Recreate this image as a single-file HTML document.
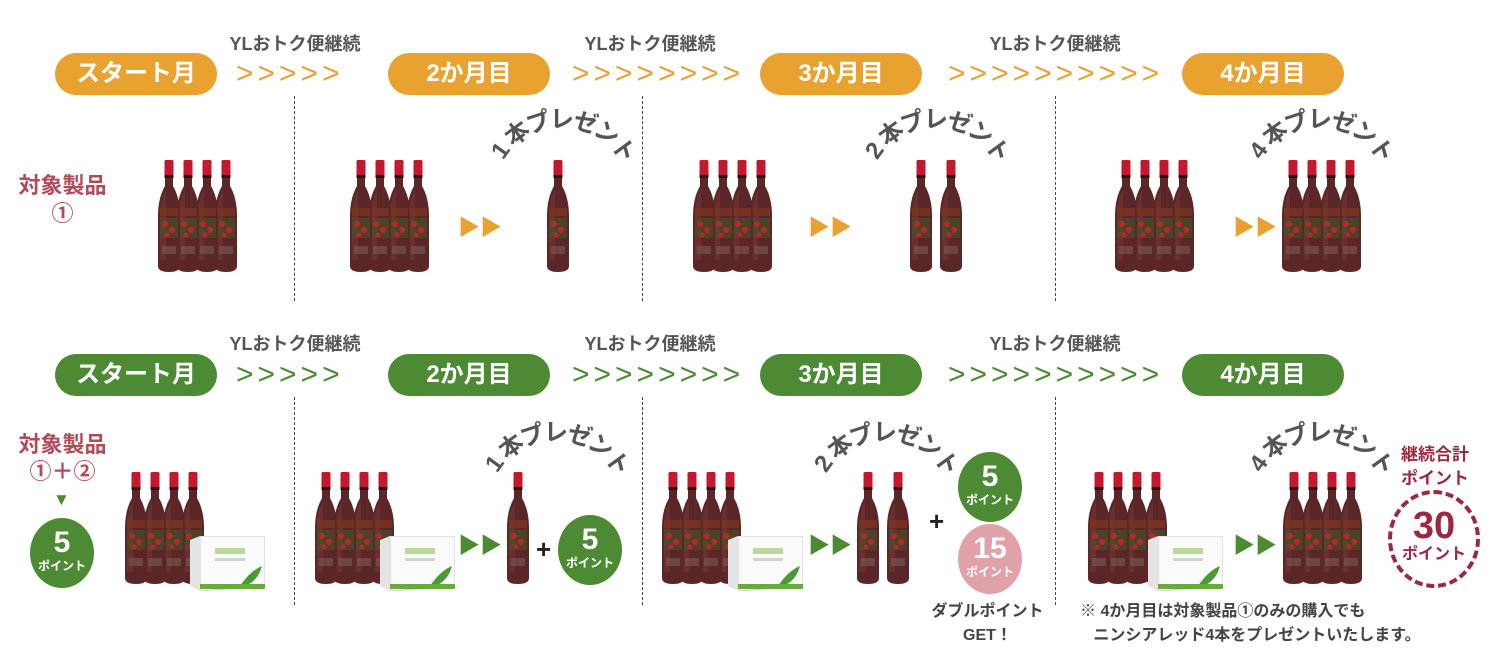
<!DOCTYPE html>
<html><head><meta charset="utf-8">
<style>
body{margin:0;width:1500px;height:664px;background:#fff;position:relative;overflow:hidden;font-family:"Liberation Sans","Noto Sans CJK JP",sans-serif;}
.a{position:absolute;}
.pill{position:absolute;height:42px;width:162px;border-radius:21px;color:#fff;font-weight:bold;font-size:24px;line-height:42px;text-align:center;}
.o{background:#E9A22F}.g{background:#4C8A34}
.yl{position:absolute;font-weight:bold;font-size:18px;color:#555;width:160px;text-align:center;}
.chev{position:absolute;font-size:30px;line-height:30px;letter-spacing:4px;}
.co{color:#E9A22F}.cg{color:#4C8A34}
.dash{position:absolute;width:0;border-left:1.5px dashed #444;}
.arc{position:absolute;width:0;height:0;}
.arc span{position:absolute;left:-12px;top:-88px;width:24px;height:26px;text-align:center;font-size:24px;font-weight:bold;color:#555;transform-origin:12px 88px;line-height:26px;}
.arc span:nth-child(1){transform:rotate(-54deg)}
.arc span:nth-child(2){transform:rotate(-36deg)}
.arc span:nth-child(3){transform:rotate(-18deg)}
.arc span:nth-child(4){transform:rotate(0deg)}
.arc span:nth-child(5){transform:rotate(18deg)}
.arc span:nth-child(6){transform:rotate(36deg)}
.arc span:nth-child(7){transform:rotate(54deg)}
.circ{position:absolute;width:64px;height:70px;border-radius:50%;color:#fff;text-align:center;font-weight:bold;}
.circ b{display:block;font-size:30px;line-height:30px;margin-top:10px}
.circ i{display:block;font-style:normal;font-size:12px;line-height:16px}
.lab{position:absolute;color:#B34A5A;font-weight:bold;text-align:center;}
.plus{position:absolute;font-size:26px;font-weight:bold;color:#222;}
.dark{position:absolute;color:#444;font-weight:bold;font-size:16px;}
</style></head><body>
<svg width="0" height="0" style="position:absolute">
<defs>
<symbol id="b" viewBox="0 0 24 112">
<path d="M8 17 L16 17 L16 26 Q23 38 23 56 L23 106 Q23 112 12 112 Q1 112 1 106 L1 56 Q1 38 8 26 Z" fill="#5a2627"/>
<path d="M3 50 Q4 38 9 30 L9 100 L3 100 Z" fill="#7a3a38" opacity=".5"/>
<rect x="7.5" y="0" width="9" height="18" rx="1.5" fill="#c3192f"/>
<rect x="7.5" y="15" width="9" height="3" fill="#2a1111"/>
<rect x="3" y="48" width="18" height="8" fill="#7a3520" opacity=".8"/>
<rect x="3" y="58" width="18" height="20" fill="#3f5a2a" opacity=".55"/>
<circle cx="8" cy="64" r="3" fill="#b8282a"/><circle cx="15" cy="70" r="3" fill="#b8282a"/><circle cx="10" cy="75" r="2.5" fill="#b8282a"/>
<rect x="5" y="86" width="14" height="8" fill="#7a5a56" opacity=".6"/>
</symbol>
<symbol id="bx" viewBox="0 0 75 55">
<path d="M10 0 L75 0 L75 50 L10 55 Z" fill="#fafafa" stroke="#ccc"/>
<path d="M0 4 L10 0 L10 55 L0 50 Z" fill="#e4e4e4"/>
<rect x="25" y="12" width="30" height="6" fill="#7cb342" opacity=".5"/>
<rect x="25" y="22" width="30" height="3" fill="#999" opacity=".4"/>
<path d="M50 50 Q60 35 72 30 Q68 45 55 50 Z" fill="#4a9a38"/>
<rect x="10" y="48" width="65" height="5" fill="#6aaa3a"/>
</symbol>
</defs></svg>

<!-- Row 1 -->
<div class="yl" style="left:215px;top:30px">YLおトク便継続</div>
<div class="yl" style="left:570px;top:30px">YLおトク便継続</div>
<div class="yl" style="left:975px;top:30px">YLおトク便継続</div>
<div class="pill o" style="left:55px;top:53px">スタート月</div>
<div class="pill o" style="left:388px;top:53px">2か月目</div>
<div class="pill o" style="left:760px;top:53px">3か月目</div>
<div class="pill o" style="left:1182px;top:53px">4か月目</div>
<div class="chev co" style="left:236px;top:59px">&gt;&gt;&gt;&gt;&gt;</div>
<div class="chev co" style="left:572px;top:59px">&gt;&gt;&gt;&gt;&gt;&gt;&gt;&gt;</div>
<div class="chev co" style="left:948px;top:59px">&gt;&gt;&gt;&gt;&gt;&gt;&gt;&gt;&gt;&gt;</div>
<div class="dash" style="left:294px;top:96px;height:205px"></div>
<div class="dash" style="left:642px;top:96px;height:205px"></div>
<div class="dash" style="left:1055px;top:96px;height:205px"></div>

<div class="lab" style="left:15px;top:172px;width:95px;font-size:22px;line-height:28px">対象製品<br>①</div>

<svg class="a" style="left:157px;top:160px" width="82" height="113"><use href="#b" x="57" width="24" height="112"/><use href="#b" x="38" width="24" height="112"/><use href="#b" x="19" width="24" height="112"/><use href="#b" x="0" width="24" height="112"/></svg>
<svg class="a" style="left:349px;top:160px" width="82" height="113"><use href="#b" x="57" width="24" height="112"/><use href="#b" x="38" width="24" height="112"/><use href="#b" x="19" width="24" height="112"/><use href="#b" x="0" width="24" height="112"/></svg>
<div class="a co" style="left:458px;top:210px;font-size:22px">▶▶</div>
<svg class="a" style="left:546px;top:160px" width="26" height="113"><use href="#b" x="0" width="24" height="112"/></svg>
<div class="arc" style="left:562px;top:195px"><span>1</span><span>本</span><span>プ</span><span>レ</span><span>ゼ</span><span>ン</span><span>ト</span></div>

<svg class="a" style="left:692px;top:160px" width="82" height="113"><use href="#b" x="57" width="24" height="112"/><use href="#b" x="38" width="24" height="112"/><use href="#b" x="19" width="24" height="112"/><use href="#b" x="0" width="24" height="112"/></svg>
<div class="a co" style="left:808px;top:210px;font-size:22px">▶▶</div>
<svg class="a" style="left:909px;top:160px" width="62" height="113"><use href="#b" x="30" width="24" height="112"/><use href="#b" x="0" width="24" height="112"/></svg>
<div class="arc" style="left:936px;top:195px"><span>2</span><span>本</span><span>プ</span><span>レ</span><span>ゼ</span><span>ン</span><span>ト</span></div>

<svg class="a" style="left:1114px;top:160px" width="82" height="113"><use href="#b" x="57" width="24" height="112"/><use href="#b" x="38" width="24" height="112"/><use href="#b" x="19" width="24" height="112"/><use href="#b" x="0" width="24" height="112"/></svg>
<div class="a co" style="left:1233px;top:210px;font-size:22px">▶▶</div>
<svg class="a" style="left:1281px;top:160px" width="82" height="113"><use href="#b" x="57" width="24" height="112"/><use href="#b" x="38" width="24" height="112"/><use href="#b" x="19" width="24" height="112"/><use href="#b" x="0" width="24" height="112"/></svg>
<div class="arc" style="left:1320px;top:195px"><span>4</span><span>本</span><span>プ</span><span>レ</span><span>ゼ</span><span>ン</span><span>ト</span></div>

<!-- Row 2 -->
<div class="yl" style="left:215px;top:330px">YLおトク便継続</div>
<div class="yl" style="left:570px;top:330px">YLおトク便継続</div>
<div class="yl" style="left:975px;top:330px">YLおトク便継続</div>
<div class="pill g" style="left:55px;top:354px">スタート月</div>
<div class="pill g" style="left:388px;top:354px">2か月目</div>
<div class="pill g" style="left:760px;top:354px">3か月目</div>
<div class="pill g" style="left:1182px;top:354px">4か月目</div>
<div class="chev cg" style="left:236px;top:360px">&gt;&gt;&gt;&gt;&gt;</div>
<div class="chev cg" style="left:572px;top:360px">&gt;&gt;&gt;&gt;&gt;&gt;&gt;&gt;</div>
<div class="chev cg" style="left:948px;top:360px">&gt;&gt;&gt;&gt;&gt;&gt;&gt;&gt;&gt;&gt;</div>
<div class="dash" style="left:294px;top:397px;height:208px"></div>
<div class="dash" style="left:642px;top:397px;height:208px"></div>
<div class="dash" style="left:1055px;top:397px;height:208px"></div>

<div class="lab" style="left:15px;top:431px;width:95px;font-size:22px;line-height:27px">対象製品<br>①＋②</div>
<div class="a cg" style="left:53px;top:490px;font-size:17px">▼</div>
<div class="circ g" style="left:30px;top:518px"><b>5</b><i>ポイント</i></div>

<svg class="a" style="left:124px;top:472px" width="82" height="113"><use href="#b" x="57" width="24" height="112"/><use href="#b" x="38" width="24" height="112"/><use href="#b" x="19" width="24" height="112"/><use href="#b" x="0" width="24" height="112"/></svg>
<svg class="a" style="left:190px;top:536px" width="75" height="55"><use href="#bx" width="75" height="55"/></svg>
<svg class="a" style="left:314px;top:472px" width="82" height="113"><use href="#b" x="57" width="24" height="112"/><use href="#b" x="38" width="24" height="112"/><use href="#b" x="19" width="24" height="112"/><use href="#b" x="0" width="24" height="112"/></svg>
<svg class="a" style="left:380px;top:536px" width="75" height="55"><use href="#bx" width="75" height="55"/></svg>
<div class="a cg" style="left:458px;top:528px;font-size:22px">▶▶</div>
<svg class="a" style="left:506px;top:472px" width="26" height="113"><use href="#b" x="0" width="24" height="112"/></svg>
<div class="plus" style="left:536px;top:534px">+</div>
<div class="circ g" style="left:558px;top:515px"><b>5</b><i>ポイント</i></div>
<div class="arc" style="left:556px;top:508px"><span>1</span><span>本</span><span>プ</span><span>レ</span><span>ゼ</span><span>ン</span><span>ト</span></div>

<svg class="a" style="left:661px;top:472px" width="82" height="113"><use href="#b" x="57" width="24" height="112"/><use href="#b" x="38" width="24" height="112"/><use href="#b" x="19" width="24" height="112"/><use href="#b" x="0" width="24" height="112"/></svg>
<svg class="a" style="left:728px;top:536px" width="75" height="55"><use href="#bx" width="75" height="55"/></svg>
<div class="a cg" style="left:808px;top:528px;font-size:22px">▶▶</div>
<svg class="a" style="left:856px;top:472px" width="62" height="113"><use href="#b" x="30" width="24" height="112"/><use href="#b" x="0" width="24" height="112"/></svg>
<div class="arc" style="left:885px;top:508px"><span>2</span><span>本</span><span>プ</span><span>レ</span><span>ゼ</span><span>ン</span><span>ト</span></div>
<div class="plus" style="left:929px;top:506px">+</div>
<div class="circ g" style="left:958px;top:452px"><b>5</b><i>ポイント</i></div>
<div class="circ" style="left:958px;top:524px;background:#E0A2A8"><b>15</b><i>ポイント</i></div>
<div class="dark" style="left:925px;top:600px;width:125px;text-align:center;line-height:24px">ダブルポイント<br>GET！</div>

<svg class="a" style="left:1087px;top:472px" width="82" height="113"><use href="#b" x="57" width="24" height="112"/><use href="#b" x="38" width="24" height="112"/><use href="#b" x="19" width="24" height="112"/><use href="#b" x="0" width="24" height="112"/></svg>
<svg class="a" style="left:1148px;top:536px" width="75" height="55"><use href="#bx" width="75" height="55"/></svg>
<div class="a cg" style="left:1233px;top:528px;font-size:22px">▶▶</div>
<svg class="a" style="left:1282px;top:472px" width="82" height="113"><use href="#b" x="57" width="24" height="112"/><use href="#b" x="38" width="24" height="112"/><use href="#b" x="19" width="24" height="112"/><use href="#b" x="0" width="24" height="112"/></svg>
<div class="arc" style="left:1320px;top:508px"><span>4</span><span>本</span><span>プ</span><span>レ</span><span>ゼ</span><span>ン</span><span>ト</span></div>
<div class="a" style="left:1385px;top:443px;width:100px;text-align:center;color:#9B2743;font-weight:bold;font-size:17px;line-height:24px">継続合計<br>ポイント</div>
<div class="a" style="left:1388px;top:490px;width:84px;height:90px;border:4px dashed #9B2743;border-radius:50%;color:#9B2743;text-align:center;font-weight:bold">
<div style="font-size:38px;line-height:40px;margin-top:12px">30</div><div style="font-size:16px;line-height:18px">ポイント</div></div>
<div class="dark" style="left:1080px;top:600px;line-height:24px">※ 4か月目は対象製品①のみの購入でも<br>&nbsp;&nbsp;&nbsp;ニンシアレッド4本をプレゼントいたします。</div>
</body></html>
